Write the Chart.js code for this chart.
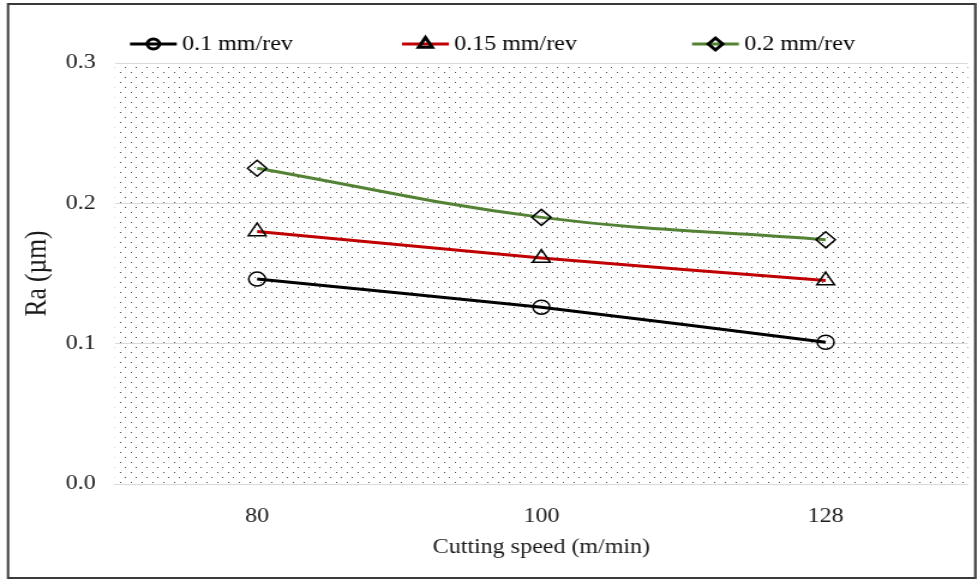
<!doctype html>
<html>
<head>
<title>Surface roughness</title>
<script src="https://cdn.jsdelivr.net/npm/chart.js@4.4.1/dist/chart.umd.min.js"></script>
<style>
html, body { margin: 0; padding: 0; background: #fff; overflow: hidden; }
/* the source picture is stretched sideways, so draw narrow and widen it */
#wrap { width: 814px; height: 580px; transform: scaleX(1.2); transform-origin: 0 0; }
</style>
</head>
<body>
<div id="wrap"><canvas id="canvas"></canvas></div>
<script>
var speeds = ["80", "100", "128"];
var feed01 = [0.146, 0.126, 0.101];
var feed015 = [0.180, 0.161, 0.145];
var feed02 = [0.225, 0.190, 0.174];
var yTicks = [0.0, 0.1, 0.2, 0.3];

var serif = "'Liberation Serif', 'Times New Roman', serif";

// dotted fill behind the plot
function dotPattern(ctx) {
    var c = document.createElement('canvas');
    c.width = 9; c.height = 10;
    var p = c.getContext('2d');
    p.fillStyle = '#4a4a4a';
    p.fillRect(1, 2, 1, 1);
    p.fillRect(5, 7, 1, 1);
    return ctx.createPattern(c, 'repeat');
}

var backdrop = {
    id: 'backdrop',
    beforeDraw: function(chart) {
        var ctx = chart.ctx, a = chart.chartArea;
        ctx.save();
        ctx.fillStyle = dotPattern(ctx);
        ctx.fillRect(a.left, a.top, a.right - a.left, a.bottom - a.top);
        ctx.strokeStyle = '#3a3a3a';
        ctx.lineWidth = 2;
        ctx.strokeRect(6.7, 4, 806, 574);
        ctx.restore();
    }
};

// legend: line + marker + text, like the spreadsheet legend
var lineLegend = {
    id: 'lineLegend',
    afterDraw: function(chart) {
        var ctx = chart.ctx;
        var xs = [108.3, 335, 576.7];
        var y = 44;
        ctx.save();
        chart.data.datasets.forEach(function(ds, i) {
            var x = xs[i];
            ctx.strokeStyle = ds.borderColor;
            ctx.lineWidth = 3;
            ctx.beginPath();
            ctx.moveTo(x, y);
            ctx.lineTo(x + 39, y);
            ctx.stroke();
            ctx.strokeStyle = '#000';
            ctx.fillStyle = 'rgba(0,0,0,0)';
            Chart.helpers.drawPoint(ctx, {
                pointStyle: ds.pointStyle,
                radius: ds.pointRadius - 2,
                borderWidth: 1.5
            }, x + 19.5, y);
            ctx.fillStyle = '#000';
            ctx.font = '20px ' + serif;
            ctx.textBaseline = 'middle';
            ctx.fillText(ds.label, x + 43.5, y + 1);
        });
        ctx.restore();
    }
};

var common = {
    borderWidth: 3,
    pointBorderColor: '#000',
    pointBackgroundColor: 'rgba(0,0,0,0)',
    pointBorderWidth: 1.5,
    fill: false
};

var config = {
    type: 'line',
    data: {
        labels: speeds,
        datasets: [
            Object.assign({}, common, {
                label: '0.1 mm/rev', data: feed01, borderColor: '#000000',
                pointStyle: 'circle', pointRadius: 7, tension: 0.15
            }),
            Object.assign({}, common, {
                label: '0.15 mm/rev', data: feed015, borderColor: '#c00000',
                pointStyle: 'triangle', pointRadius: 8.5, tension: 0.15
            }),
            Object.assign({}, common, {
                label: '0.2 mm/rev', data: feed02, borderColor: '#548235',
                pointStyle: 'rectRot', pointRadius: 8, tension: 0.4
            })
        ]
    },
    options: {
        responsive: true,
        maintainAspectRatio: false,
        animation: false,
        layout: { autoPadding: false, padding: { top: 63, right: 7.5, left: 0, bottom: 0 } },
        plugins: {
            legend: { display: false },
            tooltip: { enabled: false }
        },
        scales: {
            x: {
                offset: true,
                grid: { display: false, drawTicks: false },
                border: { display: true, color: '#d9d9d9', width: 1 },
                ticks: {
                    color: '#1a1a1a', padding: 21,
                    font: { family: serif, size: 20 }
                },
                title: {
                    display: true, text: 'Cutting speed (m/min)', color: '#1a1a1a',
                    font: { family: serif, size: 20 }, padding: { top: 0, bottom: 20 }
                },
                afterFit: function(s) {
                    s.height = 96;
                    s.paddingLeft = 0;
                    s.paddingRight = 0;
                }
            },
            y: {
                min: 0, max: 0.3,
                afterBuildTicks: function(s) {
                    s.ticks = yTicks.map(function(v) { return { value: v }; });
                },
                grid: { color: '#d9d9d9', lineWidth: 1, drawTicks: false },
                border: { display: false },
                ticks: {
                    color: '#1a1a1a', padding: 16,
                    font: { family: serif, size: 20 },
                    callback: function(v) { return Number(v).toFixed(1); }
                },
                title: {
                    display: true, text: 'Ra (µm)', color: '#1a1a1a',
                    font: { family: serif, size: 25.5 }, padding: { top: 16.4, bottom: 0 }
                },
                afterFit: function(s) {
                    s.width = 95.8;
                    s.paddingTop = 0;
                    s.paddingBottom = 0;
                }
            }
        }
    },
    plugins: [backdrop, lineLegend]
};

window.onload = function() {
    window.myLine = new Chart(document.getElementById('canvas'), config);
};
</script>
</body>
</html>
